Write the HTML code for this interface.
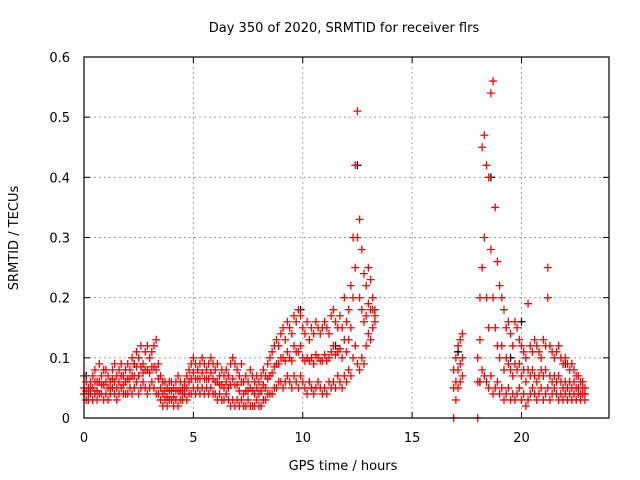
<!DOCTYPE html>
<html><head><meta charset="utf-8"><style>
html,body{margin:0;padding:0;background:#fff;}
svg{display:block;font-family:"DejaVu Sans","Liberation Sans",sans-serif;}
</style></head><body>
<svg id="chart" width="640" height="480">
<rect width="640" height="480" fill="#fff"/>
<g id="grid"></g>
<g id="black"></g>
<g id="red"></g>
<g id="axes"></g>
<text x="344" y="32" text-anchor="middle" font-size="13">Day 350 of 2020, SRMTID for receiver flrs</text>
<text x="343" y="470" text-anchor="middle" font-size="13">GPS time / hours</text>
<text transform="translate(18,238) rotate(-90)" text-anchor="middle" font-size="13">SRMTID / TECUs</text>
</svg>
<script>
const xTicks=[0,5,10,15,20];
const yTicks=[0,0.1,0.2,0.3,0.4,0.5,0.6];
const yTickLabels=["0","0.1","0.2","0.3","0.4","0.5","0.6"];
// segment A: 0.0..8.4 step 0.1
const hiA=[0.07,0.06,0.05,0.06,0.07,0.08,0.06,0.09,0.07,0.08,0.08,0.07,0.06,0.08,0.09,0.07,0.08,0.09,0.07,0.08,0.09,0.08,0.10,0.09,0.11,0.10,0.12,0.09,0.11,0.12,0.10,0.11,0.12,0.13,0.09,0.07,0.06,0.06,0.05,0.06,0.06,0.05,0.06,0.07,0.06,0.05,0.06,0.07,0.08,0.09,0.10,0.09,0.08,0.09,0.10,0.09,0.08,0.09,0.10,0.09,0.08,0.09,0.07,0.08,0.07,0.08,0.07,0.09,0.10,0.09,0.08,0.07,0.09,0.06,0.07,0.06,0.08,0.07,0.06,0.07,0.06,0.07,0.08,0.07,0.09];
const loA=[0.04,0.03,0.03,0.04,0.03,0.04,0.03,0.04,0.04,0.03,0.04,0.03,0.04,0.05,0.04,0.03,0.04,0.05,0.04,0.04,0.04,0.05,0.04,0.05,0.06,0.04,0.05,0.06,0.05,0.04,0.05,0.06,0.05,0.04,0.04,0.03,0.02,0.03,0.02,0.03,0.03,0.02,0.03,0.02,0.03,0.03,0.04,0.03,0.04,0.04,0.05,0.04,0.05,0.04,0.05,0.04,0.05,0.04,0.05,0.04,0.04,0.03,0.04,0.03,0.03,0.04,0.03,0.02,0.03,0.02,0.03,0.02,0.03,0.02,0.02,0.03,0.02,0.02,0.02,0.03,0.02,0.02,0.03,0.03,0.04];
const midA=[0.05,0.045,0.04,0.05,0.05,0.06,0.045,0.06,0.055,0.055,0.06,0.05,0.05,0.065,0.06,0.05,0.06,0.07,0.055,0.06,0.065,0.065,0.07,0.07,0.085,0.07,0.085,0.075,0.08,0.08,0.075,0.085,0.085,0.08,0.065,0.05,0.04,0.045,0.035,0.045,0.045,0.035,0.045,0.045,0.045,0.04,0.05,0.05,0.06,0.065,0.075,0.065,0.065,0.065,0.075,0.065,0.065,0.065,0.075,0.065,0.06,0.06,0.055,0.055,0.05,0.06,0.05,0.055,0.065,0.055,0.055,0.045,0.06,0.04,0.045,0.045,0.05,0.045,0.04,0.05,0.04,0.045,0.055,0.05,0.065];
// segment B: 8.5..13.3 step 0.1
const hiB=[0.10,0.11,0.12,0.13,0.12,0.14,0.15,0.13,0.16,0.15,0.14,0.17,0.16,0.18,0.17,0.15,0.14,0.16,0.13,0.15,0.14,0.16,0.15,0.14,0.15,0.16,0.15,0.14,0.17,0.18,0.16,0.15,0.17,0.15,0.20,0.16,0.18,0.22,0.30,0.42,0.51,0.33,0.28,0.24,0.22,0.25,0.23,0.20,0.18];
const loB=[0.04,0.04,0.05,0.05,0.06,0.06,0.05,0.06,0.07,0.06,0.05,0.07,0.06,0.05,0.07,0.06,0.05,0.04,0.06,0.05,0.04,0.05,0.06,0.05,0.04,0.05,0.04,0.06,0.05,0.06,0.05,0.07,0.06,0.05,0.07,0.06,0.08,0.07,0.10,0.12,0.09,0.08,0.10,0.09,0.12,0.14,0.13,0.15,0.16];
const midB=[0.07,0.075,0.085,0.09,0.09,0.10,0.10,0.095,0.11,0.10,0.095,0.12,0.11,0.11,0.12,0.10,0.095,0.10,0.095,0.10,0.09,0.105,0.10,0.095,0.095,0.105,0.095,0.10,0.11,0.12,0.105,0.11,0.115,0.10,0.13,0.11,0.13,0.15,0.20,0.25,0.30,0.20,0.18,0.16,0.17,0.19,0.18,0.18,0.17];
// segment C: 16.9..22.9 step 0.1
const hiC=[0.08,0.10,0.12,0.13,0.14,null,null,null,null,null,null,0.10,0.20,0.45,0.47,0.42,0.40,0.54,0.56,0.35,0.26,0.22,0.20,0.18,0.15,0.16,0.14,0.12,0.16,0.15,0.13,0.12,0.11,0.10,0.19,0.12,0.11,0.13,0.12,0.11,0.10,0.13,0.12,0.25,0.12,0.11,0.10,0.11,0.12,0.10,0.09,0.10,0.09,0.08,0.09,0.08,0.07,0.07,0.06,0.06,0.05];
const loC=[0.0,0.03,0.05,0.06,0.07,null,null,null,null,null,null,0.0,0.06,0.08,0.07,0.06,0.05,0.07,0.04,0.05,0.06,0.04,0.05,0.03,0.04,0.05,0.03,0.04,0.03,0.04,0.05,0.03,0.04,0.02,0.03,0.04,0.05,0.04,0.03,0.04,0.05,0.03,0.04,0.05,0.03,0.04,0.05,0.04,0.03,0.04,0.03,0.04,0.03,0.04,0.03,0.04,0.03,0.04,0.03,0.04,0.03];
const midC=[0.05,0.06,0.08,0.09,0.10,null,null,null,null,null,null,0.06,0.13,0.25,0.30,0.20,0.15,0.28,0.20,0.15,0.12,0.10,0.12,0.08,0.10,0.09,0.08,0.07,0.09,0.08,0.09,0.07,0.08,0.06,0.08,0.07,0.08,0.07,0.06,0.07,0.08,0.07,0.08,0.20,0.07,0.06,0.07,0.06,0.07,0.06,0.05,0.06,0.05,0.06,0.05,0.06,0.05,0.05,0.04,0.05,0.04];
const blackTimes=[0.1,2.3,9.9,12.5,18.6,18.1,20.0,22.0,17.1,10.4,11.5,19.5];
const blackVals=[0.07,0.09,0.18,0.42,0.40,0.06,0.16,0.09,0.11,0.05,0.12,0.10];

const L=84,R=609,T=57,B=418,XMAX=24,YMAX=0.6;
const sx=t=>L+(t/XMAX)*(R-L);
const sy=v=>B-(v/YMAX)*(B-T);
const NS="http://www.w3.org/2000/svg";
function mk(tag,parent){const e=document.createElementNS(NS,tag);parent.appendChild(e);return e;}
const grid=document.getElementById('grid'),axes=document.getElementById('axes');
xTicks.forEach((t,i)=>{
  if(t>0){const g=mk('line',grid);
  
  
  g.setAttribute('x1',sx(t));g.setAttribute('x2',sx(t));g.setAttribute('y1',T);g.setAttribute('y2',B);
  g.setAttribute('stroke','#a0a0a0');g.setAttribute('stroke-dasharray','2,3');}
  [[B,B-6],[T,T+6]].forEach(([a,b])=>{const k=mk('line',axes);
  
  
  k.setAttribute('x1',sx(t));k.setAttribute('x2',sx(t));k.setAttribute('y1',a);k.setAttribute('y2',b);k.setAttribute('stroke','#000');});
  const tx=mk('text',axes);
  
  
  tx.setAttribute('x',sx(t));tx.setAttribute('y',B+24);tx.setAttribute('text-anchor','middle');tx.setAttribute('font-size','13');tx.textContent=String(t);
});
yTicks.forEach((v,i)=>{
  if(v>0&&v<YMAX){const g=mk('line',grid);
  
  
  g.setAttribute('x1',L);g.setAttribute('x2',R);g.setAttribute('y1',sy(v));g.setAttribute('y2',sy(v));
  g.setAttribute('stroke','#a0a0a0');g.setAttribute('stroke-dasharray','2,3');}
  [[L,L+6],[R,R-6]].forEach(([a,b])=>{const k=mk('line',axes);
  
  
  k.setAttribute('x1',a);k.setAttribute('x2',b);k.setAttribute('y1',sy(v));k.setAttribute('y2',sy(v));k.setAttribute('stroke','#000');});
  const tx=mk('text',axes);
  
  
  tx.setAttribute('x',L-14);tx.setAttribute('y',sy(v)+5);tx.setAttribute('text-anchor','end');tx.setAttribute('font-size','13');tx.textContent=yTickLabels[i];
});
const frame=mk('rect',axes);


frame.setAttribute('x',L);frame.setAttribute('y',T);frame.setAttribute('width',R-L);frame.setAttribute('height',B-T);
frame.setAttribute('fill','none');frame.setAttribute('stroke','#000');frame.setAttribute('stroke-width','1.2');

function plus(g,t,v,col){
  const p=mk('path',g);
  
  
  const x=sx(t),y=sy(v);
  p.setAttribute('d',`M${x-4} ${y}H${x+4}M${x} ${y-4}V${y+4}`);
  p.setAttribute('stroke',col);p.setAttribute('stroke-width','1.3');p.setAttribute('fill','none');
}
const blk=document.getElementById('black'),red=document.getElementById('red');
blackTimes.forEach((t,i)=>plus(blk,t,blackVals[i],'#000'));
function seg(start,arrs){
  arrs.forEach(a=>a.forEach((v,i)=>{if(v!==null)plus(red,start+i*0.1,v,'#ff0000');}));
}
seg(0,[hiA,loA,midA]);
seg(8.5,[hiB,loB,midB]);
seg(16.9,[hiC,loC,midC]);
</script>
</body></html>
